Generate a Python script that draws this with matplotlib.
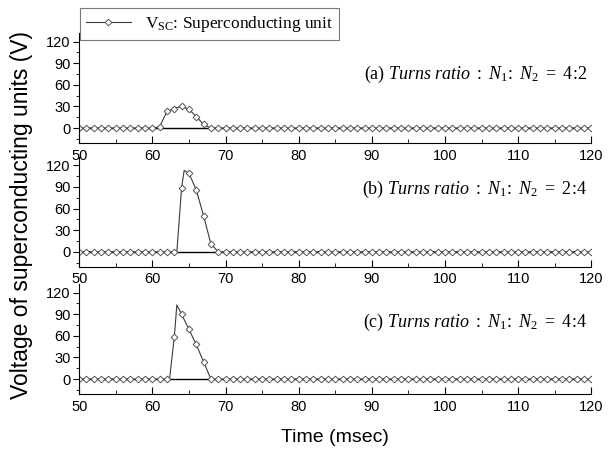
import numpy as np
import matplotlib
matplotlib.use("Agg")
import matplotlib.pyplot as plt
from matplotlib.ticker import MultipleLocator

plt.rcParams['font.family'] = 'Liberation Sans'
plt.rcParams['mathtext.fontset'] = 'custom'
plt.rcParams['mathtext.rm'] = 'Liberation Serif'
plt.rcParams['mathtext.it'] = 'Liberation Serif:italic'

# ---------------------------------------------------------------- data
flat_t = list(range(50, 121))          # 1 ms sampling of the markers

# (a) 4:2  pulse samples
pulse_a_t = [61, 62, 63, 64, 65, 66, 67]
pulse_a_v = [2, 23, 27, 30, 26, 16, 5]
# (b) 2:4
pulse_b_t = [63.35, 64, 64.35, 65, 66, 67, 68]
pulse_b_v = [0, 89, 113, 109, 86, 50, 11]
# (c) 4:4
pulse_c_t = [62.35, 63, 63.35, 64, 65, 66, 67]
pulse_c_v = [0, 58, 103, 90, 69, 48, 24]

labels = ['(a) ', '(b) ', '(c) ']
ratios = ['4\\!:\\!2', '2\\!:\\!4', '4\\!:\\!4']
text_y = [0.625, 0.70, 0.655]


def build(pt, pv):
    d = {t: 0.0 for t in flat_t}
    for t, v in zip(pt, pv):
        d[t] = v
    ts = sorted(d)
    vs = [d[t] for t in ts]
    marks = [i for i, t in enumerate(ts) if float(t).is_integer()]
    return ts, vs, marks


fig = plt.figure(figsize=(6.09, 4.53), dpi=100)
bottoms = [0.684, 0.411, 0.130]
pulses = [(pulse_a_t, pulse_a_v), (pulse_b_t, pulse_b_v), (pulse_c_t, pulse_c_v)]
axes = []
for k in range(3):
    ax = fig.add_axes([0.130, bottoms[k], 0.841, 0.243])
    ts, vs, marks = build(*pulses[k])
    ax.axhline(0, color='black', lw=1.0, zorder=1)
    ln, = ax.plot(ts, vs, color='#3a3a3a', lw=0.8, marker='D', markersize=3.4,
                  markerfacecolor='white', markeredgecolor='#555555',
                  markeredgewidth=0.7, markevery=marks, zorder=2,
                  label=r'V$_{\mathrm{SC}}$: Superconducting unit')
    ax.set_xlim(50, 120)
    ax.set_ylim(-21, 132)
    ax.xaxis.set_major_locator(MultipleLocator(10))
    ax.xaxis.set_minor_locator(MultipleLocator(5))
    ax.set_yticks([0, 30, 60, 90, 120])
    ax.yaxis.set_minor_locator(MultipleLocator(15))
    ax.spines['top'].set_visible(False)
    ax.spines['right'].set_visible(False)
    ax.tick_params(axis='x', which='major', direction='in', length=5, labelsize=10.5, pad=4)
    ax.tick_params(axis='x', which='minor', direction='in', length=3)
    ax.tick_params(axis='y', which='major', direction='out', length=4, labelsize=10.5, pad=2)
    ax.tick_params(axis='y', which='minor', direction='out', length=2)
    ax.patch.set_alpha(0)
    ax.text(0.992, text_y[k],
            labels[k] + r'$Turns\ ratio\ :\ N_1\!:\ N_2\ =\ \mathit{' + ratios[k] + '}$',
            transform=ax.transAxes, ha='right', va='center', fontsize=13,
            family='Liberation Serif')
    axes.append(ax)

leg = fig.legend(handles=[ln], loc='upper left', bbox_to_anchor=(0.131, 0.982),
                 borderaxespad=0, frameon=True, fancybox=False, edgecolor='#555555',
                 handlelength=2.6, borderpad=0.35,
                 prop={'family': 'Liberation Serif', 'size': 12.5})
leg.get_frame().set_linewidth(0.8)

fig.text(0.036, 0.525, 'Voltage of superconducting units (V)', rotation=90,
         ha='center', va='center', fontsize=16.5)
fig.text(0.55, 0.035, 'Time (msec)', ha='center', va='center', fontsize=14)

fig.savefig('out.png', dpi=100)
